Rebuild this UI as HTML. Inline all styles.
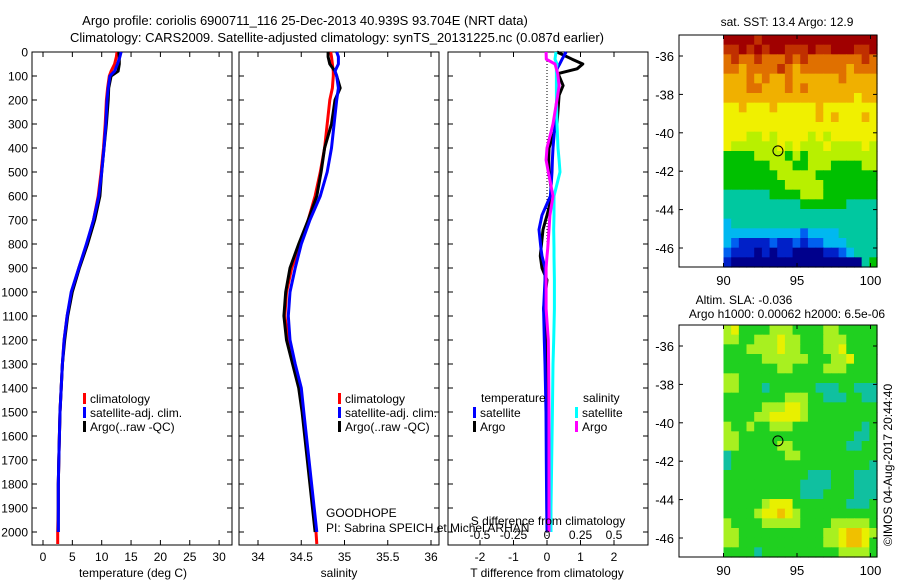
<!DOCTYPE html>
<html><head><meta charset="utf-8">
<style>
html,body{margin:0;padding:0;background:#fff;}
svg{display:block;font-family:"Liberation Sans",Arial,sans-serif;}
text{font-size:12px;fill:#000;}
</style></head>
<body>
<svg id="fig" width="900" height="580" viewBox="0 0 900 580" xmlns="http://www.w3.org/2000/svg">
<text x="305" y="25" text-anchor="middle" style="font-size:13px">Argo profile: coriolis 6900711_116 25-Dec-2013 40.939S 93.704E (NRT data)</text>
<text x="337" y="42" text-anchor="middle" style="font-size:13px">Climatology: CARS2009. Satellite-adjusted climatology: synTS_20131225.nc (0.087d earlier)</text>
<g id="g"></g>
</svg>
<script>
// ---- data ----
const depths=[0,20,50,80,100,150,200,300,400,500,600,700,800,900,1000,1100,1200,1300,1400,1500,1600,1700,1800,1900,2000,2050];
const tempClim=[12.6,12.5,12.2,11.6,11.3,11.0,10.8,10.6,10.3,9.9,9.4,8.6,7.5,6.1,4.9,4.1,3.6,3.3,3.1,2.9,2.8,2.7,2.6,2.6,2.5,2.5];
const tempArgo=[12.9,13.0,13.0,12.8,11.6,11.2,11.1,10.8,10.4,10.0,9.7,8.8,7.6,6.2,5.0,4.2,3.7,3.3,3.1,2.9,2.8,2.7,2.6,2.6,2.6];
const tempSat=[13.3,13.1,12.7,12.2,11.4,11.1,10.9,10.7,10.4,10.0,9.5,8.6,7.4,6.1,4.8,4.1,3.6,3.3,3.1,2.9,2.8,2.7,2.6,2.6,2.6];
const salClim=[34.84,34.85,34.86,34.87,34.87,34.86,34.83,34.80,34.77,34.72,34.66,34.58,34.49,34.39,34.33,34.31,34.35,34.42,34.49,34.52,34.55,34.58,34.61,34.64,34.67,34.68];
const salArgo=[34.81,34.81,34.83,34.89,34.91,34.95,34.89,34.85,34.77,34.73,34.68,34.58,34.47,34.37,34.32,34.30,34.33,34.40,34.47,34.51,34.54,34.57,34.60,34.63,34.66];
const salSat=[34.91,34.93,34.93,34.89,34.91,34.93,34.91,34.88,34.85,34.80,34.72,34.60,34.50,34.43,34.37,34.35,34.37,34.43,34.50,34.53,34.56,34.59,34.62,34.65,34.68];
const diffDepths=[0,30,50,70,90,140,180,300,400,450,500,600,680,740,820,850,900,950,1070,1200,1300,1500,1700,1900,2000];
const dTSat=[0.57,0.45,0.38,0.3,0.3,0.33,0.3,0.24,0.18,0.16,0.15,0.1,-0.15,-0.24,-0.18,-0.15,-0.06,-0.06,-0.1,-0.08,-0.06,-0.03,-0.02,-0.01,0.0];
const dTArgo=[0.3,0.75,1.07,0.9,0.33,0.48,0.36,0.3,0.06,0.05,0.06,0.15,0.0,-0.12,-0.18,-0.2,-0.15,0.0,-0.1,0.0,0.0,0.0,0.01,0.01,0.01];
const dSArgo=[-0.007,-0.005,0.06,0.07,0.08,0.09,0.08,0.045,0.0,-0.007,0.01,0.045,0.022,0.015,0.005,0.0,-0.007,-0.007,-0.007,0.01,0.012,0.015,0.015,0.015,0.015];
const dSSat=[0.067,0.06,0.075,0.07,0.07,0.07,0.07,0.075,0.082,0.09,0.097,0.052,0.052,0.05,0.052,0.052,0.054,0.055,0.055,0.05,0.045,0.04,0.035,0.03,0.03];
const depthTicks=[0,100,200,300,400,500,600,700,800,900,1000,1100,1200,1300,1400,1500,1600,1700,1800,1900,2000];
const tempTicks=[0,5,10,15,20,25,30];
const salTicks=[34,34.5,35,35.5,36];
const tdTicks=[-2,-1,0,1,2];
const sdTicks=[-0.5,-0.25,0,0.25,0.5];
const lonTicks=[90,95,100];
const latTicks=[-36,-38,-40,-42,-44,-46];
const argoLon=93.704, argoLat=-40.939;
const sstRows=["bbbbabbbbbbbbbbbbbbb","aabababbaaabaabbbaab","9a99a999a9a9999999a9","9989999a989999998999","88898988988888898888","88899888989888888888","88888888888888888788","77877787777787777777","77777777777787877787","77777777777777777777","77766767777676777777","76666667676667666676","55556666565666666666","55555566655666555566","55555556666655555555","55555555666665555555","44444455556665555555","44444444445555554444","44444444444444444444","34444444444444444444","33333333332333344444","32111121121223334444","21110101100001123444","10000000000000000045"];
const slaRows=["67555566655556655555","66556667665556665555","55566667665556675555","55555666666555667555","55555556655556665555","66555555555555555555","66555455555544455444","55555555666554445544","55555666776555555555","55556677776555555555","65565566655555555545","66555555555555555445","66555556655555554455","45555555665555555555","45555555555555555554","55555555555444555444","55555555554444555444","55555555554445555444","55555677755555554445","55556778765555555555","65555666665555666665","66555555555556678876","66555555555556678875","55554555555555566665"];
const sstPal=["#00008c","#0020c8","#0060f0","#00b8f0","#00c8a0","#00c000","#b8f000","#f0f000","#f0b000","#e07000","#c03000","#a00000"];
const slaPal=["#00008c","#0020c8","#0060f0","#00b8f0","#10c0a0","#20d020","#a8f020","#e8f000","#f0c000"];
// ---- helpers ----
const NS="http://www.w3.org/2000/svg";
const G=document.getElementById('g');
function mk(tag,attrs,parent){const e=document.createElementNS(NS,tag);for(const k in attrs)e.setAttribute(k,attrs[k]);(parent||G).appendChild(e);return e;}
const yD=d=>52+d*0.24;
const PB=545;
const xT=t=>43+t*5.87;
const xS=s=>258+(s-34)*86.5;
const xTD=t=>547+t*33.5;
const xSD=s=>547+s*134;
function frame(x0,x1,name){const r=mk('rect',{x:x0,y:52,width:x1-x0,height:PB-52,fill:'none',stroke:'#000','stroke-width':1});

}
function line(x1,y1,x2,y2,extra){return mk('line',Object.assign({x1,y1,x2,y2,stroke:'#000','stroke-width':1},extra||{}));}
function txt(x,y,s,anchor,name,size){const t=mk('text',{x,y,'text-anchor':anchor||'start'});t.textContent=s;if(size)t.style.fontSize=size;

return t;}
function depthTickMarks(x0,x1,labels){depthTicks.forEach(d=>{const y=yD(d);line(x0,y,x0+5,y);line(x1-5,y,x1,y);if(labels){txt(28,y+4.5,String(d),'end','depth-tick-label');}});}
function prof(vals,dep,fx,color,name,w){const pts=vals.map((v,i)=>fx(v).toFixed(1)+','+yD(dep[i]).toFixed(1)).join(' ');const p=mk('polyline',{points:pts,fill:'none',stroke:color,'stroke-width':w||3,'stroke-linejoin':'round'});

}
function legendEntry(x,y,color,label,name){mk('rect',{x:x,y:y-10,width:3,height:11,fill:color});txt(x+7,y,label,'start',name);}
// ---- panel 1 ----
frame(32,232,'temperature-panel');
depthTickMarks(32,232,true);
tempTicks.forEach(t=>{const x=xT(t);line(x,52,x,57);line(x,PB-5,x,PB);txt(x,561,String(t),'middle','temperature-tick-label');});
txt(133,577,'temperature (deg C)','middle','temperature-axis-title');
prof(tempClim,depths,xT,'#ff0000','temp-climatology-line');
prof(tempArgo,depths,xT,'#000000','temp-argo-line');
prof(tempSat,depths,xT,'#0000ff','temp-satellite-line');
legendEntry(83,403,'#ff0000','climatology','legend-climatology');
legendEntry(83,417,'#0000ff','satellite-adj. clim.','legend-satellite');
legendEntry(83,431,'#000000','Argo(..raw -QC)','legend-argo');
// ---- panel 2 ----
frame(239,439,'salinity-panel');
depthTickMarks(239,439,false);
salTicks.forEach(s=>{const x=xS(s);line(x,52,x,57);line(x,PB-5,x,PB);txt(x,561,String(s),'middle','salinity-tick-label');});
txt(339,577,'salinity','middle','salinity-axis-title');
prof(salClim,depths,xS,'#ff0000','sal-climatology-line');
prof(salArgo,depths,xS,'#000000','sal-argo-line');
prof(salSat,depths,xS,'#0000ff','sal-satellite-line');
legendEntry(338,403,'#ff0000','climatology','legend-climatology-sal');
legendEntry(338,417,'#0000ff','satellite-adj. clim.','legend-satellite-sal');
legendEntry(338,431,'#000000','Argo(..raw -QC)','legend-argo-sal');
txt(326,517,'GOODHOPE','start','project-name');
txt(326,532,'PI: Sabrina SPEICH et Michel ARHAN','start','pi-names');
// ---- panel 3 ----
frame(448,648,'difference-panel');
depthTickMarks(448,648,false);
line(547,52,547,PB,{'stroke-dasharray':'1,2'});
tdTicks.forEach(t=>{const x=xTD(t);line(x,52,x,57);line(x,PB-5,x,PB);txt(x,561,String(t),'middle','t-diff-tick-label');});
txt(547,577,'T difference from climatology','middle','t-diff-axis-title');
prof(dTArgo,diffDepths,xTD,'#000000','t-diff-argo-line');
prof(dTSat,diffDepths,xTD,'#0000ff','t-diff-satellite-line');
prof(dSSat,diffDepths,xSD,'#00ffff','s-diff-satellite-line');
prof(dSArgo,diffDepths,xSD,'#ff00ff','s-diff-argo-line');
sdTicks.forEach(s=>{txt(xSD(s),539,String(s),'middle','s-diff-tick-label');});
txt(548,525,'S difference from climatology','middle','s-diff-axis-title');
txt(481,402,'temperature','start','legend-temperature-heading');
txt(583,402,'salinity','start','legend-salinity-heading');
legendEntry(473,417,'#0000ff','satellite','legend-t-satellite');
legendEntry(473,431,'#000000','Argo','legend-t-argo');
legendEntry(575,417,'#00ffff','satellite','legend-s-satellite');
legendEntry(575,431,'#ff00ff','Argo','legend-s-argo');
// ---- maps ----
function map(top,rows,pal,name){
  const L=679,R=877,B=top+232;
  const xL=lon=>797+(lon-95)*14.7;
  const yL=lat=>top+21+(-36-lat)*19.2;
  const gx0=xL(90),gx1=R,gy0=top,gy1=B;
  const nr=rows.length,nc=rows[0].length;
  const cw=(gx1-gx0)/nc,ch=(gy1-gy0)/nr;
  rows.forEach((row,i)=>{for(let j=0;j<nc;j++){const c=mk('rect',{x:(gx0+j*cw).toFixed(2),y:(gy0+i*ch).toFixed(2),width:(cw+0.6).toFixed(2),height:(ch+0.6).toFixed(2),fill:pal[parseInt(row[j],16)]});
  
  }});
  const f=mk('rect',{x:L,y:top,width:R-L,height:B-top,fill:'none',stroke:'#000'});
  
  
  lonTicks.forEach(lo=>{const x=xL(lo);line(x,top,x,top+4);line(x,B-4,x,B);txt(x,B+18,String(lo),'middle',name+'-lon-label',"13px");});
  latTicks.forEach(la=>{const y=yL(la);line(L,y,L+4,y);line(R-4,y,R,y);txt(674,y+5,String(la),'end',name+'-lat-label',"13px");});
  const c=mk('circle',{cx:xL(argoLon),cy:yL(argoLat),r:5,fill:'none',stroke:'#000'});
  
  
}
map(35,sstRows,sstPal,'sst-map');
map(325,slaRows,slaPal,'sla-map');
txt(787,26,'sat. SST: 13.4  Argo: 12.9','middle','sst-map-title');
txt(744,304,'Altim. SLA: -0.036','middle','sla-map-title');
txt(787,318,'Argo h1000: 0.00062 h2000: 6.5e-06','middle','sla-map-subtitle');
const cr=txt(0,0,'\u00A9IMOS 04-Aug-2017 20:44:40','middle','timestamp-credit');
cr.setAttribute('transform','translate(892,465) rotate(-90)');
</script>
</body></html>
